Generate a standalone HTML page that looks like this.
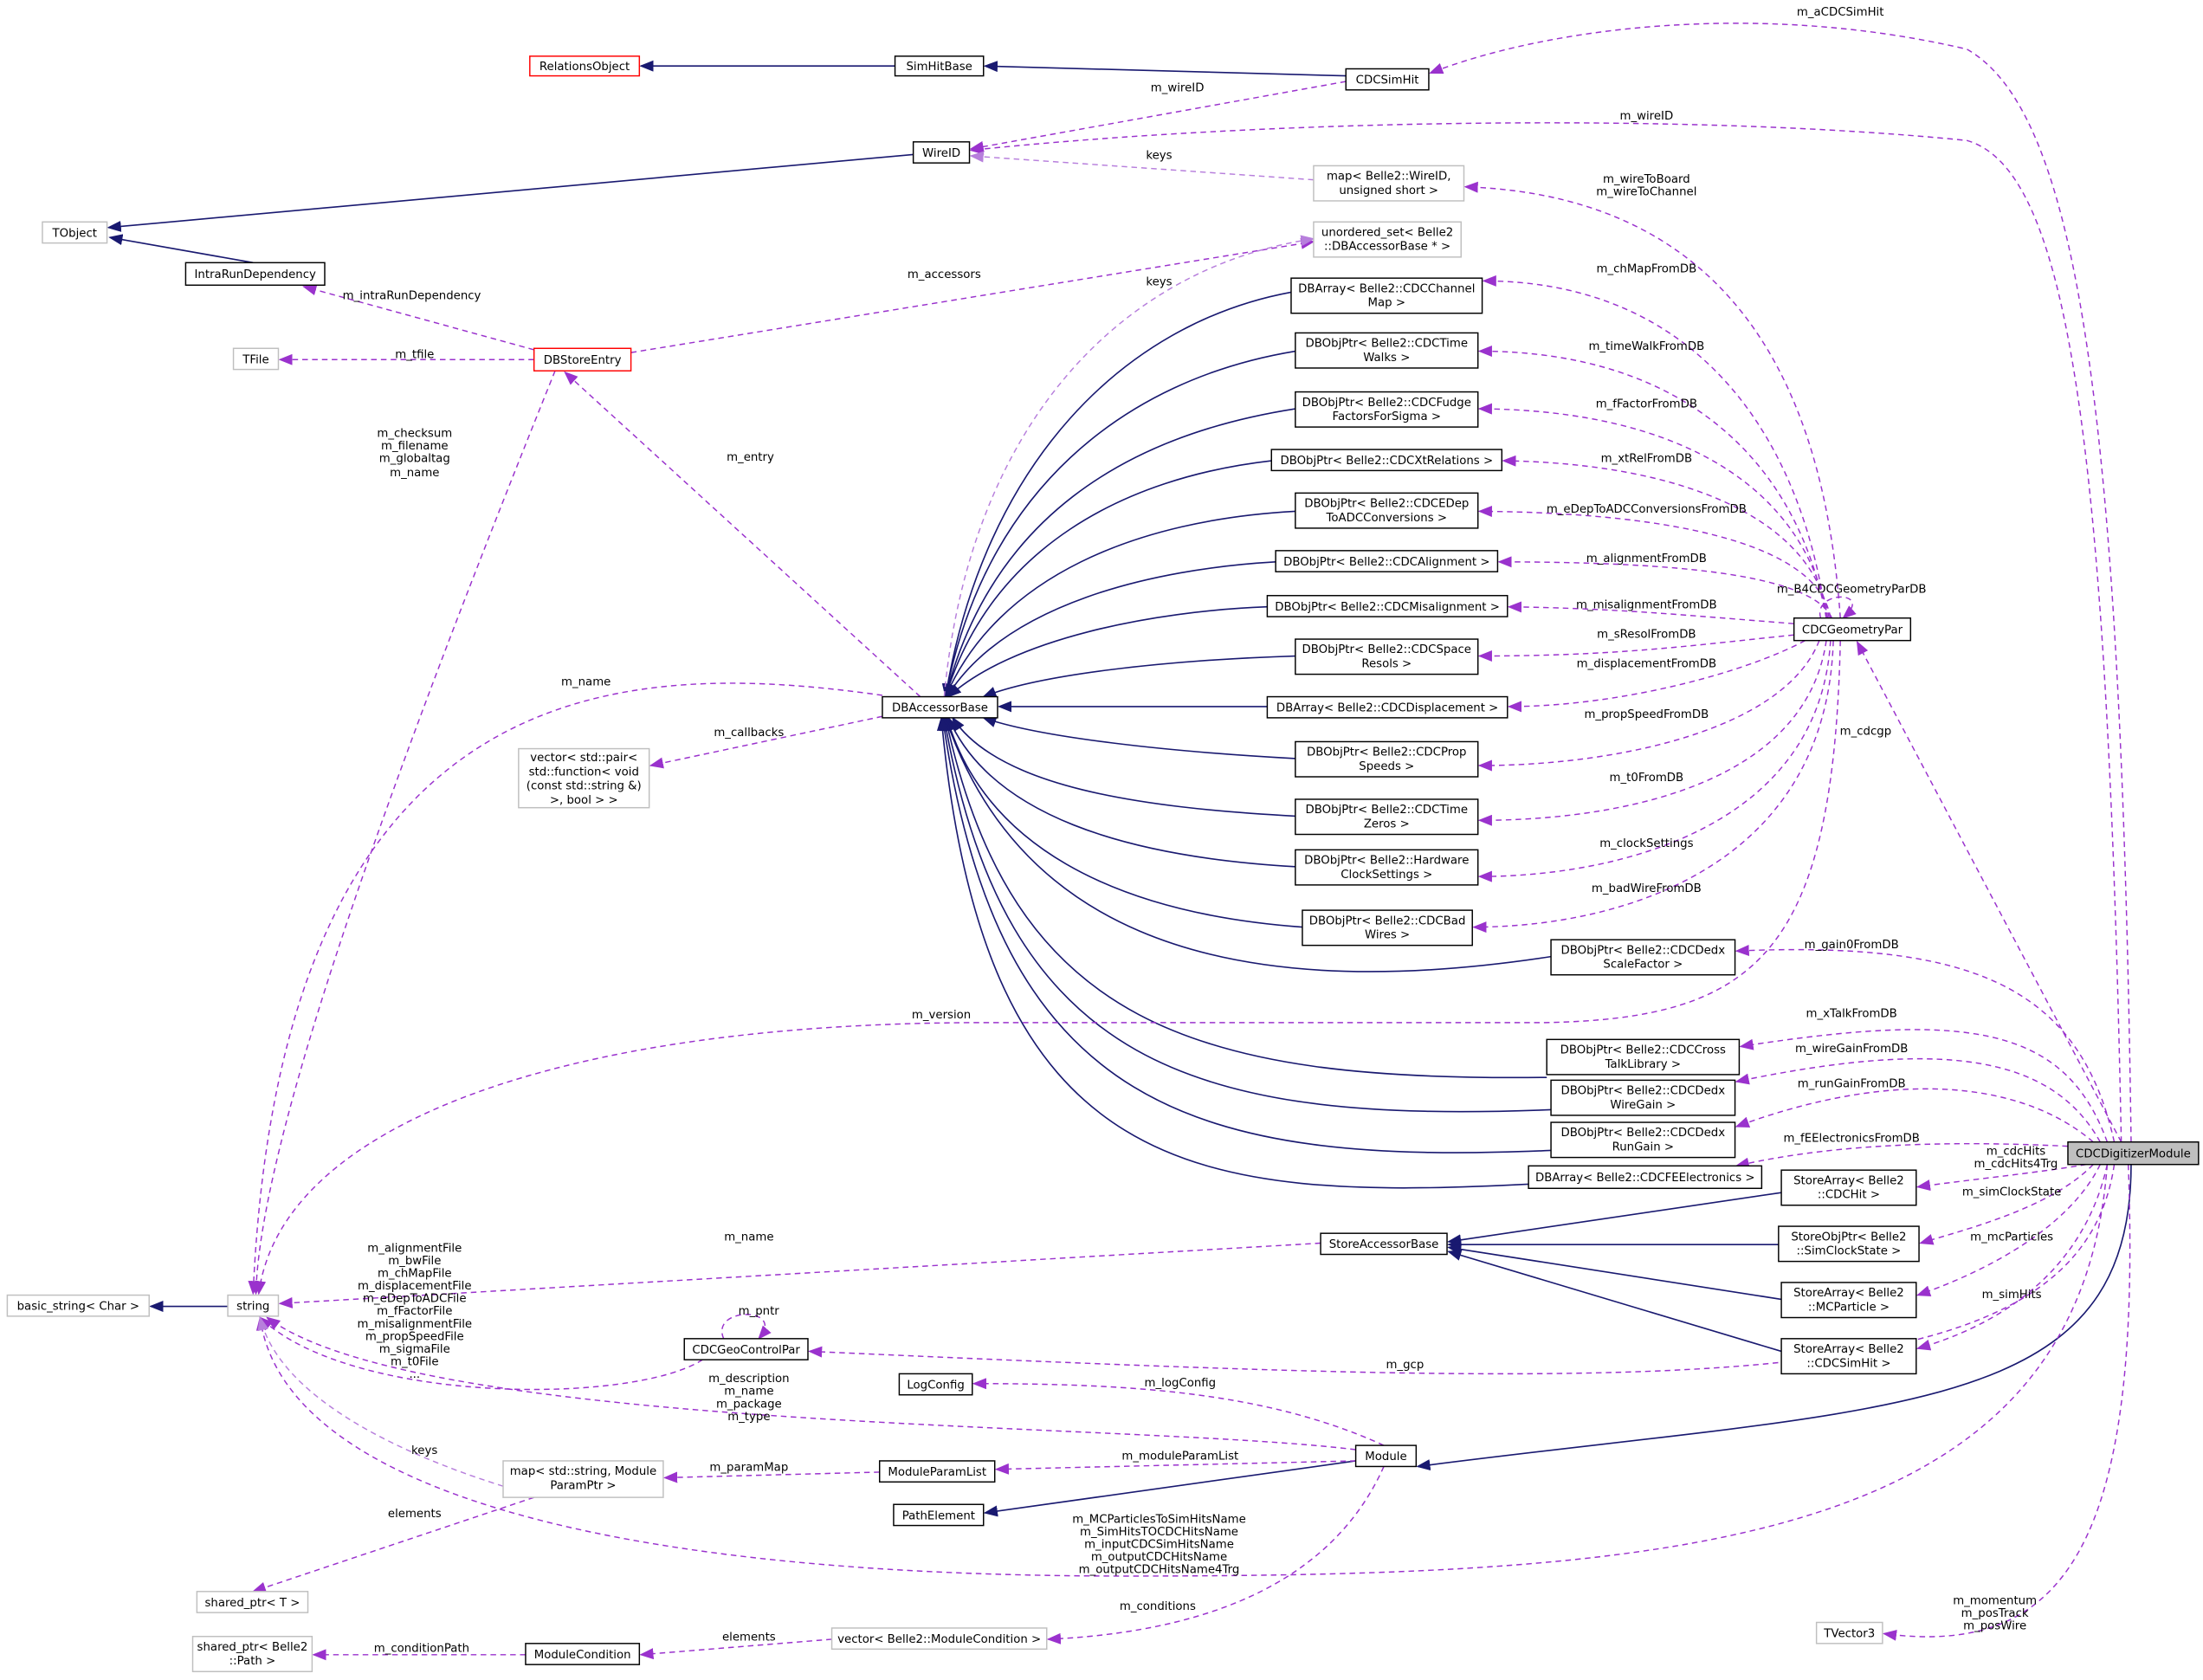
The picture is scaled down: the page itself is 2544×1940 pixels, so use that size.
<!DOCTYPE html>
<html><head><meta charset="utf-8"><style>
html,body{margin:0;padding:0;background:#fff;}
svg{display:block;}
text{font-family:"DejaVu Sans","Liberation Sans",sans-serif;font-size:8.2px;fill:#000;}
.n{fill:#fff;stroke:#000;stroke-width:0.9;}
.g{fill:#fff;stroke:#bfbfbf;stroke-width:0.9;}
.r{fill:#fff;stroke:#ff0000;stroke-width:0.9;}
.b{fill:none;stroke:#191970;stroke-width:1;}
.p{fill:none;stroke:#9a32cd;stroke-width:0.9;stroke-dasharray:4,3;}
.k{fill:none;stroke:#b77fdc;stroke-width:0.9;stroke-dasharray:4,3;}
</style></head><body>
<svg width="2544" height="1940" viewBox="0 0 1568 1196" xmlns="http://www.w3.org/2000/svg">
<defs>
<marker id="ab" markerWidth="10" markerHeight="8" refX="9" refY="4" orient="auto" markerUnits="userSpaceOnUse"><path d="M0,0 L10,4 L0,8 z" fill="#191970"/></marker>
<marker id="ap" markerWidth="10" markerHeight="8" refX="9" refY="4" orient="auto" markerUnits="userSpaceOnUse"><path d="M0,0 L10,4 L0,8 z" fill="#9a32cd"/></marker>
<marker id="ak" markerWidth="10" markerHeight="8" refX="9" refY="4" orient="auto" markerUnits="userSpaceOnUse"><path d="M0,0 L10,4 L0,8 z" fill="#b77fdc"/></marker>
</defs>
<rect width="1568" height="1196" fill="#fff"/>

<!-- blue inheritance edges -->
<g class="b" marker-end="url(#ab)">
<path d="M637,47 L456,47"/>
<path d="M958,54 L701,47"/>
<path d="M650,110 L77,162"/>
<path d="M180,187 L78,169"/>
<path d="M919,208 C800,230 700,330 673,496"/>
<path d="M922,250 C800,270 700,350 673,496"/>
<path d="M922,291 C800,310 705,370 673,496"/>
<path d="M905,328 C800,340 705,390 673,496"/>
<path d="M922,364 C810,370 710,410 673,496"/>
<path d="M908,400 C820,405 715,430 674,496"/>
<path d="M902,432 C820,435 720,455 675,496"/>
<path d="M922,467 C830,470 740,480 700,496"/>
<path d="M902,503 L711,503"/>
<path d="M922,540 C830,535 740,525 700,511"/>
<path d="M922,581 C810,575 710,560 678,511"/>
<path d="M922,617 C800,610 705,580 675,511"/>
<path d="M927,660 C790,650 700,600 674,511"/>
<path d="M1104,681 C850,720 720,650 673,511"/>
<path d="M1101,767 C850,770 720,730 673,511"/>
<path d="M1104,790 C850,800 715,760 672,511"/>
<path d="M1104,819 C850,830 710,790 671,511"/>
<path d="M1088,843 C850,855 700,840 670,511"/>
<path d="M1268,849 L1031,884"/>
<path d="M1266,886 L1031,886"/>
<path d="M1268,925 L1031,888"/>
<path d="M1268,962 L1031,891"/>
<path d="M162,930 L107,930"/>
<path d="M965,1040 L701,1077"/>
<path d="M1517,829 C1517,1010 1350,1000 1009,1044"/>
</g>

<!-- purple dashed edges -->
<g class="p" marker-end="url(#ap)">
<path d="M1517,813 C1510,300 1480,80 1400,35 C1250,0 1100,20 1018,52"/>
<path d="M958,58 L691,106"/>
<path d="M1510,813 C1500,300 1470,120 1400,100 C1200,80 900,85 691,107"/>
<path d="M1310,440 C1300,300 1250,140 1043,133"/>
<path d="M449,251 L935,172"/>
<path d="M380,249 L216,204"/>
<path d="M380,256 L199,256"/>
<path d="M395,264 C300,500 185,800 182,921"/>
<path d="M655,496 L402,265"/>
<path d="M628,495 C450,470 200,470 180,921"/>
<path d="M628,510 L463,545"/>
<path d="M1300,440 C1280,300 1200,200 1056,200"/>
<path d="M1300,440 C1280,330 1200,250 1053,250"/>
<path d="M1301,440 C1285,350 1200,292 1053,291"/>
<path d="M1302,440 C1290,370 1200,330 1070,328"/>
<path d="M1303,440 C1295,390 1200,365 1053,364"/>
<path d="M1304,440 C1290,410 1200,400 1067,400"/>
<path d="M1277,444 C1200,438 1150,433 1074,432"/>
<path d="M1277,452 C1200,460 1150,467 1053,467"/>
<path d="M1285,456 C1240,480 1150,503 1074,503"/>
<path d="M1295,456 C1270,520 1150,545 1053,545"/>
<path d="M1300,456 C1285,560 1150,584 1053,584"/>
<path d="M1303,456 C1295,590 1150,624 1053,624"/>
<path d="M1305,456 C1300,620 1150,660 1049,660"/>
<path d="M1296,440 C1290,420 1335,420 1312,440"/>
<path d="M1310,456 C1305,680 1250,725 1100,728 L700,728 C400,728 200,800 184,921"/>
<path d="M1510,813 L1322,457"/>
<path d="M1505,813 C1480,700 1400,670 1236,677"/>
<path d="M1500,813 C1470,730 1400,720 1239,745"/>
<path d="M1495,813 C1460,750 1380,740 1236,770"/>
<path d="M1490,813 C1440,770 1350,760 1236,802"/>
<path d="M1472,816 C1350,810 1280,820 1236,830"/>
<path d="M1485,829 C1450,835 1400,840 1365,845"/>
<path d="M1490,829 C1460,860 1400,875 1367,885"/>
<path d="M1495,829 C1470,880 1400,910 1365,922"/>
<path d="M1500,829 C1480,920 1400,950 1365,960"/>
<path d="M1505,829 C1480,1000 1200,990 576,962"/>
<path d="M1500,829 C1480,1100 1200,1122 800,1122 C400,1122 200,1050 185,938"/>
<path d="M1515,829 C1525,1100 1470,1180 1341,1163"/>
<path d="M940,885 L199,928"/>
<path d="M515,953 C505,930 560,930 540,953"/>
<path d="M500,968 C450,1000 250,1000 185,938"/>
<path d="M985,1029 C900,990 800,985 693,985"/>
<path d="M965,1032 C800,1012 300,1020 190,938"/>
<path d="M965,1040 L709,1046"/>
<path d="M626,1048 L473,1052"/>
<path d="M380,1066 L180,1133"/>
<path d="M985,1044 C960,1100 900,1160 746,1167"/>
<path d="M592,1167 L456,1178"/>
<path d="M374,1178 L223,1178"/>
</g>
<g class="k" marker-end="url(#ak)">
<path d="M935,128 L691,111"/>
<path d="M672,496 C690,300 800,190 935,170"/>
<path d="M358,1058 C300,1040 200,1000 185,938"/>
</g>

<!-- nodes -->
<rect class="r" x="377" y="40" width="78" height="14"/><text x="416" y="50" text-anchor="middle">RelationsObject</text>
<rect class="n" x="637" y="40" width="63" height="14"/><text x="668.5" y="50" text-anchor="middle">SimHitBase</text>
<rect class="n" x="958" y="49" width="59" height="15"/><text x="987.5" y="59.5" text-anchor="middle">CDCSimHit</text>
<rect class="n" x="650" y="101" width="40" height="15"/><text x="670" y="111.5" text-anchor="middle">WireID</text>
<rect class="g" x="935" y="118" width="107" height="25"/><text x="988.5" y="128" text-anchor="middle">map&lt; Belle2::WireID,</text><text x="988.5" y="138" text-anchor="middle">unsigned short &gt;</text>
<rect class="g" x="30" y="158" width="46" height="15"/><text x="53" y="168.5" text-anchor="middle">TObject</text>
<rect class="n" x="132" y="187" width="99" height="16"/><text x="181.5" y="198" text-anchor="middle">IntraRunDependency</text>
<rect class="g" x="935" y="158" width="105" height="25"/><text x="987.5" y="168" text-anchor="middle">unordered_set&lt; Belle2</text><text x="987.5" y="178" text-anchor="middle">::DBAccessorBase * &gt;</text>
<rect class="g" x="166" y="248" width="32" height="15"/><text x="182" y="258.5" text-anchor="middle">TFile</text>
<rect class="r" x="380" y="248" width="69" height="16"/><text x="414.5" y="259" text-anchor="middle">DBStoreEntry</text>

<rect class="n" x="919" y="198" width="136" height="25"/><text x="987" y="208" text-anchor="middle">DBArray&lt; Belle2::CDCChannel</text><text x="987" y="218" text-anchor="middle">Map &gt;</text>
<rect class="n" x="922" y="237" width="130" height="25"/><text x="987" y="247" text-anchor="middle">DBObjPtr&lt; Belle2::CDCTime</text><text x="987" y="257" text-anchor="middle">Walks &gt;</text>
<rect class="n" x="922" y="279" width="130" height="25"/><text x="987" y="289" text-anchor="middle">DBObjPtr&lt; Belle2::CDCFudge</text><text x="987" y="299" text-anchor="middle">FactorsForSigma &gt;</text>
<rect class="n" x="905" y="320" width="164" height="15"/><text x="987" y="330.5" text-anchor="middle">DBObjPtr&lt; Belle2::CDCXtRelations &gt;</text>
<rect class="n" x="922" y="351" width="130" height="25"/><text x="987" y="361" text-anchor="middle">DBObjPtr&lt; Belle2::CDCEDep</text><text x="987" y="371" text-anchor="middle">ToADCConversions &gt;</text>
<rect class="n" x="908" y="392" width="158" height="15"/><text x="987" y="402.5" text-anchor="middle">DBObjPtr&lt; Belle2::CDCAlignment &gt;</text>
<rect class="n" x="902" y="424" width="171" height="15"/><text x="987.5" y="434.5" text-anchor="middle">DBObjPtr&lt; Belle2::CDCMisalignment &gt;</text>
<rect class="n" x="922" y="455" width="130" height="25"/><text x="987" y="465" text-anchor="middle">DBObjPtr&lt; Belle2::CDCSpace</text><text x="987" y="475" text-anchor="middle">Resols &gt;</text>
<rect class="n" x="902" y="496" width="171" height="15"/><text x="987.5" y="506.5" text-anchor="middle">DBArray&lt; Belle2::CDCDisplacement &gt;</text>
<rect class="n" x="922" y="528" width="130" height="25"/><text x="987" y="538" text-anchor="middle">DBObjPtr&lt; Belle2::CDCProp</text><text x="987" y="548" text-anchor="middle">Speeds &gt;</text>
<rect class="n" x="922" y="569" width="130" height="25"/><text x="987" y="579" text-anchor="middle">DBObjPtr&lt; Belle2::CDCTime</text><text x="987" y="589" text-anchor="middle">Zeros &gt;</text>
<rect class="n" x="922" y="605" width="130" height="25"/><text x="987" y="615" text-anchor="middle">DBObjPtr&lt; Belle2::Hardware</text><text x="987" y="625" text-anchor="middle">ClockSettings &gt;</text>
<rect class="n" x="927" y="648" width="121" height="25"/><text x="987.5" y="658" text-anchor="middle">DBObjPtr&lt; Belle2::CDCBad</text><text x="987.5" y="668" text-anchor="middle">Wires &gt;</text>
<rect class="n" x="1104" y="669" width="131" height="25"/><text x="1169.5" y="679" text-anchor="middle">DBObjPtr&lt; Belle2::CDCDedx</text><text x="1169.5" y="689" text-anchor="middle">ScaleFactor &gt;</text>
<rect class="n" x="1101" y="740" width="137" height="25"/><text x="1169.5" y="750" text-anchor="middle">DBObjPtr&lt; Belle2::CDCCross</text><text x="1169.5" y="760" text-anchor="middle">TalkLibrary &gt;</text>
<rect class="n" x="1104" y="769" width="131" height="25"/><text x="1169.5" y="779" text-anchor="middle">DBObjPtr&lt; Belle2::CDCDedx</text><text x="1169.5" y="789" text-anchor="middle">WireGain &gt;</text>
<rect class="n" x="1104" y="799" width="131" height="25"/><text x="1169.5" y="809" text-anchor="middle">DBObjPtr&lt; Belle2::CDCDedx</text><text x="1169.5" y="819" text-anchor="middle">RunGain &gt;</text>
<rect class="n" x="1088" y="830" width="166" height="16"/><text x="1171" y="841" text-anchor="middle">DBArray&lt; Belle2::CDCFEElectronics &gt;</text>
<rect class="n" x="1277" y="440" width="83" height="16"/><text x="1318.5" y="451" text-anchor="middle">CDCGeometryPar</text>
<rect class="n" x="628" y="496" width="82" height="15"/><text x="669" y="506.5" text-anchor="middle">DBAccessorBase</text>
<rect class="g" x="369" y="533" width="93" height="42"/><text x="415.5" y="542" text-anchor="middle">vector&lt; std::pair&lt;</text><text x="415.5" y="552" text-anchor="middle"> std::function&lt; void</text><text x="415.5" y="562" text-anchor="middle">(const std::string &amp;)</text><text x="415.5" y="572" text-anchor="middle">&gt;, bool &gt; &gt;</text>
<rect x="1472" y="813" width="93" height="16" fill="#bfbfbf" stroke="#000" stroke-width="0.9"/><text x="1518.5" y="824" text-anchor="middle">CDCDigitizerModule</text>
<rect class="n" x="1268" y="833" width="96" height="25"/><text x="1316" y="843" text-anchor="middle">StoreArray&lt; Belle2</text><text x="1316" y="853" text-anchor="middle">::CDCHit &gt;</text>
<rect class="n" x="1266" y="873" width="100" height="25"/><text x="1316" y="883" text-anchor="middle">StoreObjPtr&lt; Belle2</text><text x="1316" y="893" text-anchor="middle">::SimClockState &gt;</text>
<rect class="n" x="1268" y="913" width="96" height="25"/><text x="1316" y="923" text-anchor="middle">StoreArray&lt; Belle2</text><text x="1316" y="933" text-anchor="middle">::MCParticle &gt;</text>
<rect class="n" x="1268" y="953" width="96" height="25"/><text x="1316" y="963" text-anchor="middle">StoreArray&lt; Belle2</text><text x="1316" y="973" text-anchor="middle">::CDCSimHit &gt;</text>
<rect class="n" x="940" y="878" width="90" height="15"/><text x="985" y="888.5" text-anchor="middle">StoreAccessorBase</text>
<rect class="g" x="162" y="922" width="36" height="15"/><text x="180" y="932.5" text-anchor="middle">string</text>
<rect class="g" x="5" y="922" width="101" height="15"/><text x="55.5" y="932.5" text-anchor="middle">basic_string&lt; Char &gt;</text>
<rect class="n" x="487" y="953" width="88" height="15"/><text x="531" y="963.5" text-anchor="middle">CDCGeoControlPar</text>
<rect class="n" x="640" y="978" width="52" height="15"/><text x="666" y="988.5" text-anchor="middle">LogConfig</text>
<rect class="n" x="965" y="1029" width="43" height="15"/><text x="986.5" y="1039.5" text-anchor="middle">Module</text>
<rect class="n" x="626" y="1040" width="82" height="15"/><text x="667" y="1050.5" text-anchor="middle">ModuleParamList</text>
<rect class="n" x="636" y="1071" width="64" height="15"/><text x="668" y="1081.5" text-anchor="middle">PathElement</text>
<rect class="g" x="358" y="1040" width="114" height="26"/><text x="415" y="1050" text-anchor="middle">map&lt; std::string, Module</text><text x="415" y="1060" text-anchor="middle">ParamPtr &gt;</text>
<rect class="g" x="140" y="1133" width="79" height="15"/><text x="179.5" y="1143.5" text-anchor="middle">shared_ptr&lt; T &gt;</text>
<rect class="g" x="137" y="1165" width="85" height="25"/><text x="179.5" y="1175" text-anchor="middle">shared_ptr&lt; Belle2</text><text x="179.5" y="1185" text-anchor="middle">::Path &gt;</text>
<rect class="n" x="374" y="1170" width="81" height="15"/><text x="414.5" y="1180.5" text-anchor="middle">ModuleCondition</text>
<rect class="g" x="592" y="1159" width="153" height="15"/><text x="668.5" y="1169.5" text-anchor="middle">vector&lt; Belle2::ModuleCondition &gt;</text>
<rect class="g" x="1293" y="1155" width="47" height="15"/><text x="1316.5" y="1165.5" text-anchor="middle">TVector3</text>

<!-- edge labels -->
<g text-anchor="middle">
<text x="1310" y="11">m_aCDCSimHit</text>
<text x="838" y="65">m_wireID</text>
<text x="1172" y="85">m_wireID</text>
<text x="825" y="113">keys</text>
<text x="1172" y="130">m_wireToBoard</text><text x="1172" y="139">m_wireToChannel</text>
<text x="825" y="203">keys</text>
<text x="672" y="198">m_accessors</text>
<text x="293" y="213">m_intraRunDependency</text>
<text x="295" y="255">m_tfile</text>
<text x="295" y="311">m_checksum</text><text x="295" y="320">m_filename</text><text x="295" y="329">m_globaltag</text><text x="295" y="339">m_name</text>
<text x="534" y="328">m_entry</text>
<text x="417" y="488">m_name</text>
<text x="533" y="524">m_callbacks</text>
<text x="1172" y="194">m_chMapFromDB</text>
<text x="1172" y="249">m_timeWalkFromDB</text>
<text x="1172" y="290">m_fFactorFromDB</text>
<text x="1172" y="329">m_xtRelFromDB</text>
<text x="1172" y="365">m_eDepToADCConversionsFromDB</text>
<text x="1172" y="400">m_alignmentFromDB</text>
<text x="1172" y="433">m_misalignmentFromDB</text>
<text x="1172" y="454">m_sResolFromDB</text>
<text x="1172" y="475">m_displacementFromDB</text>
<text x="1172" y="511">m_propSpeedFromDB</text>
<text x="1172" y="556">m_t0FromDB</text>
<text x="1172" y="603">m_clockSettings</text>
<text x="1172" y="635">m_badWireFromDB</text>
<text x="1318" y="422">m_B4CDCGeometryParDB</text>
<text x="670" y="725">m_version</text>
<text x="1328" y="523">m_cdcgp</text>
<text x="1318" y="675">m_gain0FromDB</text>
<text x="1318" y="724">m_xTalkFromDB</text>
<text x="1318" y="749">m_wireGainFromDB</text>
<text x="1318" y="774">m_runGainFromDB</text>
<text x="1318" y="813">m_fEElectronicsFromDB</text>
<text x="1435" y="822">m_cdcHits</text><text x="1435" y="831">m_cdcHits4Trg</text>
<text x="1432" y="851">m_simClockState</text>
<text x="1432" y="883">m_mcParticles</text>
<text x="1432" y="924">m_simHits</text>
<text x="1000" y="974">m_gcp</text>
<text x="825" y="1084">m_MCParticlesToSimHitsName</text><text x="825" y="1093">m_SimHitsTOCDCHitsName</text><text x="825" y="1102">m_inputCDCSimHitsName</text><text x="825" y="1111">m_outputCDCHitsName</text><text x="825" y="1120">m_outputCDCHitsName4Trg</text>
<text x="1420" y="1142">m_momentum</text><text x="1420" y="1151">m_posTrack</text><text x="1420" y="1160">m_posWire</text>
<text x="533" y="883">m_name</text>
<text x="540" y="936">m_pntr</text>
<text x="295" y="891">m_alignmentFile</text><text x="295" y="900">m_bwFile</text><text x="295" y="909">m_chMapFile</text><text x="295" y="918">m_displacementFile</text><text x="295" y="927">m_eDepToADCFile</text><text x="295" y="936">m_fFactorFile</text><text x="295" y="945">m_misalignmentFile</text><text x="295" y="954">m_propSpeedFile</text><text x="295" y="963">m_sigmaFile</text><text x="295" y="972">m_t0File</text><text x="295" y="981">...</text>
<text x="840" y="987">m_logConfig</text>
<text x="533" y="984">m_description</text><text x="533" y="993">m_name</text><text x="533" y="1002">m_package</text><text x="533" y="1011">m_type</text>
<text x="840" y="1039">m_moduleParamList</text>
<text x="533" y="1047">m_paramMap</text>
<text x="302" y="1035">keys</text>
<text x="295" y="1080">elements</text>
<text x="824" y="1146">m_conditions</text>
<text x="533" y="1168">elements</text>
<text x="300" y="1176">m_conditionPath</text>
</g>
</svg>
</body></html>
